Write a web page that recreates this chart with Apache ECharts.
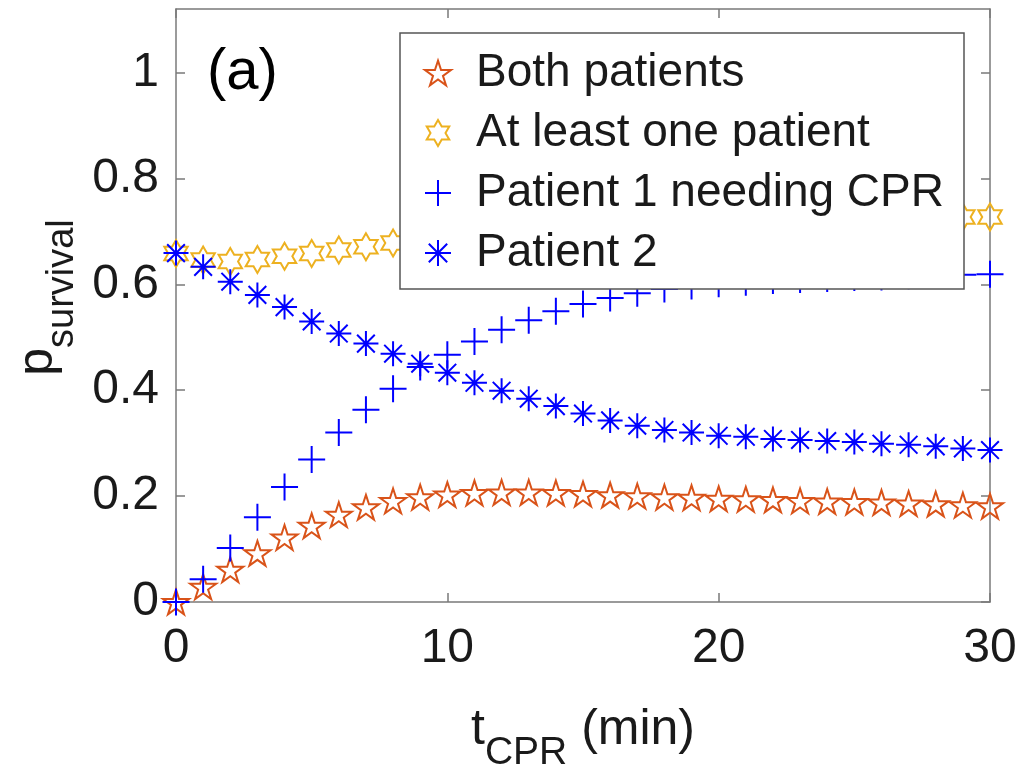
<!DOCTYPE html>
<html>
<head>
<meta charset="utf-8">
<script src="https://cdn.jsdelivr.net/npm/echarts@6/dist/echarts.min.js"></script>
<style>
html,body{margin:0;padding:0;background:#fff;}
#chart{width:1022px;height:766px;}
</style>
</head>
<body>
<div id="chart"></div>
<script>
// ---- data ----
var tCPR = [0,1,2,3,4,5,6,7,8,9,10,11,12,13,14,15,16,17,18,19,20,21,22,23,24,25,26,27,28,29,30];
var bothPatients = [0.000,0.029,0.061,0.092,0.122,0.144,0.165,0.179,0.191,0.198,0.203,0.206,0.207,0.207,0.206,0.204,0.202,0.200,0.198,0.197,0.195,0.194,0.193,0.191,0.190,0.189,0.188,0.186,0.185,0.183,0.181];
var atLeastOne = [0.658,0.646,0.643,0.647,0.653,0.658,0.665,0.671,0.678,0.686,0.694,0.700,0.705,0.709,0.712,0.715,0.717,0.719,0.720,0.721,0.722,0.723,0.724,0.724,0.725,0.725,0.726,0.726,0.727,0.727,0.727];
var patient1 = [0.000,0.043,0.102,0.160,0.217,0.269,0.320,0.363,0.403,0.444,0.467,0.492,0.514,0.532,0.549,0.563,0.574,0.583,0.591,0.597,0.601,0.604,0.607,0.609,0.611,0.613,0.614,0.616,0.617,0.618,0.619];
var patient2 = [0.659,0.633,0.605,0.580,0.557,0.530,0.507,0.488,0.469,0.450,0.433,0.414,0.399,0.384,0.370,0.356,0.343,0.333,0.325,0.320,0.314,0.312,0.308,0.306,0.304,0.302,0.299,0.297,0.294,0.290,0.287];
var seriesNames = ['Both patients','At least one patient','Patient 1 needing CPR','Patient 2'];
var yTicks = [0,0.2,0.4,0.6,0.8,1];
var xTicks = [0,10,20,30];
var panelLabel = '(a)';

// ---- marker shapes ----
var STAR = 'path://M0,-100L22.45,-30.9L95.1,-30.9L36.33,11.8L58.8,80.9L0,38.2L-58.8,80.9L-36.33,11.8L-95.1,-30.9L-22.45,-30.9Z';
var HEXA = 'path://M0,-100L28.87,-50L86.6,-50L57.7,0L86.6,50L28.87,50L0,100L-28.87,50L-86.6,50L-57.7,0L-86.6,-50L-28.87,-50Z';
var PLUS = 'path://M0,-100L0,100M-100,0L100,0';
var ASTER = 'path://M0,-100L0,100M-100,0L100,0M-70.7,-70.7L70.7,70.7M-70.7,70.7L70.7,-70.7';

var FONT = "'Liberation Sans', Arial, Helvetica, sans-serif";
var AX = '#7a7a7a';
var TXT = '#1a1a1a';
var colors = ['#D95319','#EDB120','#0000FF','#0000FF'];
var symbols = [STAR, HEXA, PLUS, ASTER];
var sizes = [26, 27, 27, 25];
var dataSets = [bothPatients, atLeastOne, patient1, patient2];

function pairs(ys){ return tCPR.map(function(t,i){ return [t, ys[i]]; }); }

var series = seriesNames.map(function(n, k){
  return {
    name: n, type: 'scatter',
    data: pairs(dataSets[k]),
    symbol: symbols[k], symbolSize: sizes[k], symbolKeepAspect: true,
    itemStyle: {color: 'rgba(0,0,0,0)', borderColor: colors[k], borderWidth: 2, opacity: 1},
    emphasis: {disabled: true},
    z: 2 + k * 0.01
  };
});

var axisLine = {show: true, onZero: false, lineStyle: {color: AX, width: 1.5}};
var axisTick = {show: true, inside: true, length: 9, lineStyle: {color: AX, width: 1.5}};

var chart = echarts.init(document.getElementById('chart'), null, {renderer: 'canvas'});
chart.setOption({
  animation: false,
  backgroundColor: '#fff',
  textStyle: {fontFamily: FONT},
  grid: {left: 176, right: 32, top: 9, bottom: 164, containLabel: false, outerBoundsMode: 'none'},
  xAxis: [{
    type: 'value', min: 0, max: 30, interval: 10, position: 'bottom',
    axisLine: axisLine, axisTick: axisTick, splitLine: {show: false},
    axisLabel: {fontSize: 48, color: TXT, margin: 23, fontFamily: FONT},
    name: '{t|t}{s|CPR}{t| (min)}', nameLocation: 'middle', nameGap: 103,
    nameTextStyle: {
      color: TXT, fontFamily: FONT,
      rich: {
        t: {fontSize: 50, lineHeight: 50, verticalAlign: 'top', color: TXT, fontFamily: FONT},
        s: {fontSize: 39, lineHeight: 68, verticalAlign: 'bottom', color: TXT, fontFamily: FONT}
      }
    }
  },{
    type: 'value', min: 0, max: 30, interval: 10, position: 'top',
    axisLine: axisLine, axisTick: axisTick, splitLine: {show: false},
    axisLabel: {show: false}
  }],
  yAxis: [{
    type: 'value', min: 0, max: 1.12, interval: 0.2, position: 'left',
    axisLine: axisLine,
    axisTick: {show: true, inside: true, length: 9, lineStyle: {color: AX, width: 1.5}, customValues: yTicks},
    splitLine: {show: false},
    axisLabel: {fontSize: 48, color: TXT, margin: 17, fontFamily: FONT, customValues: yTicks},
    name: '{p|p}{s|survival}', nameLocation: 'middle', nameGap: 92, nameRotate: 90,
    nameTextStyle: {
      color: TXT, fontFamily: FONT, padding: [0, 0, 0, 16],
      rich: {
        p: {fontSize: 50, lineHeight: 50, verticalAlign: 'top', color: TXT, fontFamily: FONT},
        s: {fontSize: 38, lineHeight: 68, verticalAlign: 'bottom', color: TXT, fontFamily: FONT}
      }
    }
  },{
    type: 'value', min: 0, max: 1.12, interval: 0.2, position: 'right',
    axisLine: axisLine,
    axisTick: {show: true, inside: true, length: 9, lineStyle: {color: AX, width: 1.5}, customValues: yTicks},
    splitLine: {show: false},
    axisLabel: {show: false}
  }],
  legend: {
    orient: 'vertical', left: 400, top: 33,
    padding: [16, 10, 13, 24],
    itemWidth: 26, itemHeight: 26, itemGap: 12,
    selectedMode: false,
    backgroundColor: 'rgba(0,0,0,0)',
    textStyle: {fontSize: 46, lineHeight: 48, color: TXT, fontFamily: FONT, padding: [0,0,0,20]},
    data: seriesNames.map(function(n,k){
      return {name: n, icon: symbols[k],
        itemStyle: {color: 'rgba(0,0,0,0)', borderColor: colors[k], borderWidth: 2}};
    }),
    z: 10
  },
  graphic: [{
    type: 'rect', z: 5,
    shape: {x: 400, y: 33, width: 564, height: 256},
    style: {fill: '#fff', stroke: '#555', lineWidth: 1.5}
  },{
    type: 'text', z: 6, left: 207, top: 44,
    style: {text: panelLabel, fontSize: 58, fill: '#000', fontFamily: FONT}
  }],
  series: series
});
</script>
</body>
</html>
